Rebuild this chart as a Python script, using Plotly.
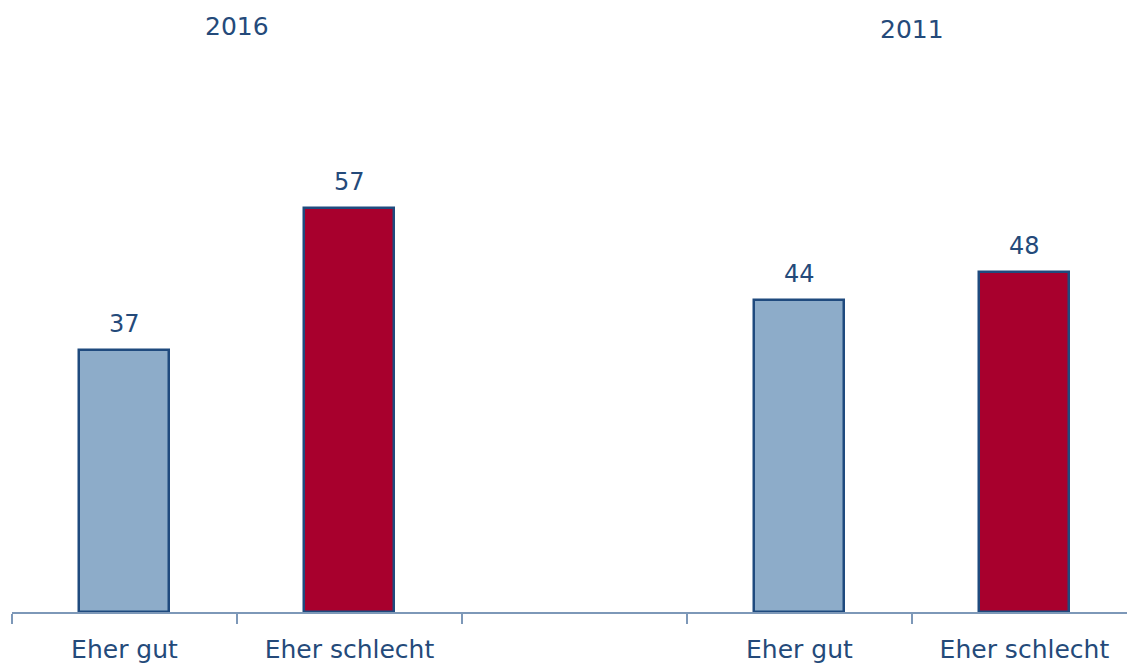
import plotly.graph_objects as go

# Survey answers, grouped by year (a blank slot separates the two groups)
categories = ["gut_2016", "schlecht_2016", "gap", "gut_2011", "schlecht_2011"]
tick_labels = ["Eher gut", "Eher schlecht", "", "Eher gut", "Eher schlecht"]
values = [37, 57, None, 44, 48]
years = ["2016", "2011"]

bar_colors = ["#8DACC9", "#A8002D", "#FFFFFF", "#8DACC9", "#A8002D"]
text_color = "#244A7A"
axis_color = "#7D98B8"
font_family = "DejaVu Sans"

fig = go.Figure()
fig.add_trace(go.Bar(
    x=categories,
    y=values,
    width=0.4,
    marker=dict(color=bar_colors, line=dict(color="#1F4A7E", width=2.5)),
    hoverinfo="skip",
))

# Value labels above each bar
for cat, v in zip(categories, values):
    if v is None:
        continue
    fig.add_annotation(
        x=cat, y=v, xref="x", yref="y",
        text=str(v), showarrow=False,
        yanchor="bottom", yshift=10,
        font=dict(family=font_family, size=24, color=text_color),
    )

# Year headings over each group (positioned between the two bars of a group)
for x_pos, y_pos, label in [(0.5, 0.956, years[0]), (3.5, 0.951, years[1])]:
    fig.add_annotation(
        x=x_pos, y=y_pos, xref="x", yref="paper",
        text=label, showarrow=False,
        yanchor="middle",
        font=dict(family=font_family, size=25, color=text_color),
    )

fig.update_layout(
    width=1127, height=664,
    margin=dict(l=12, r=0, t=0, b=52),
    paper_bgcolor="white", plot_bgcolor="white",
    showlegend=False,
    font=dict(family=font_family, color=text_color),
    bargap=0,
)
fig.update_xaxes(
    type="category",
    categoryorder="array", categoryarray=categories,
    range=[-0.5, 4.456],
    tickmode="array",
    tickvals=categories,
    ticktext=tick_labels,
    tickson="boundaries",
    ticks="outside", ticklen=10, tickwidth=1.5, tickcolor=axis_color,
    ticklabelstandoff=14,
    showline=True, linecolor=axis_color, linewidth=1.5,
    showgrid=False, zeroline=False,
    tickfont=dict(family=font_family, size=25, color=text_color),
)
fig.update_yaxes(
    range=[0, 86.3],
    visible=False, showgrid=False, zeroline=False,
)

fig.write_html("out.html")
